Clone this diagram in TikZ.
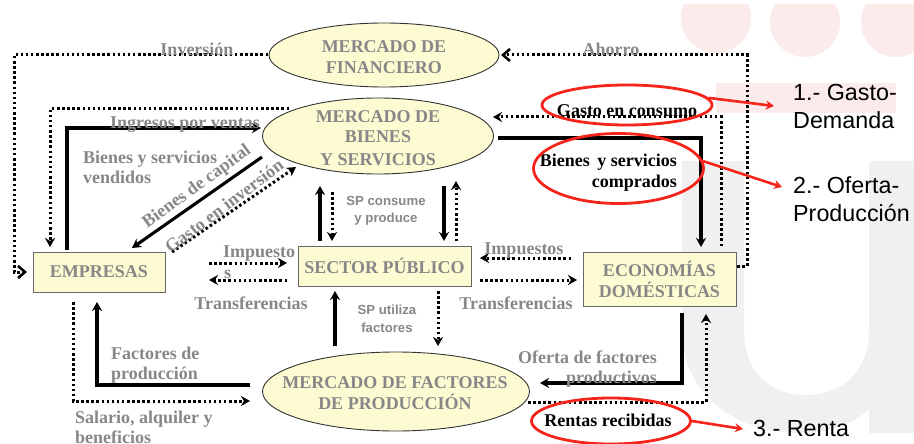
\documentclass[tikz,border=0pt]{standalone}
\usepackage{fontspec}
\setmainfont{Liberation Serif}
\setsansfont{Liberation Sans}
\usetikzlibrary{arrows.meta,shapes.geometric}
\definecolor{pinkbg}{HTML}{FCEBEB}
\definecolor{graybg}{HTML}{F0F0F0}
\definecolor{cream}{HTML}{FDFBD2}
\definecolor{lab}{HTML}{878787}
\definecolor{redl}{HTML}{F5251C}
\tikzset{
  x=1pt,y=-1pt,
  market/.style={ellipse,draw=black!80,line width=0.9pt,fill=cream,inner sep=0pt},
  mtext/.style={text=lab,inner sep=0pt,align=center,font=\bfseries\fontsize{18}{20.5}\selectfont},
  agent/.style={rectangle,draw=black!60,line width=1pt,fill=cream,inner sep=0pt,text=lab,align=center,font=\bfseries\fontsize{18}{21}\selectfont},
  lbl/.style={text=lab,inner sep=0pt,font=\bfseries\fontsize{18}{20}\selectfont},
  sp/.style={text=lab,inner sep=0pt,align=center,font=\sffamily\bfseries\fontsize{13.2}{17.5}\selectfont},
  blk/.style={text=black,inner sep=0pt,font=\bfseries\fontsize{18}{21}\selectfont},
  ans/.style={text=black,inner sep=0pt,align=left,font=\sffamily\fontsize{23.3}{28}\selectfont},
  solid line/.style={line width=3.1pt,-{Stealth[length=9pt,width=10pt]}},
  dot line/.style={line width=3pt,dash pattern=on 2.5pt off 2.6pt,-{Stealth[length=9pt,width=10pt]}},
  chevron/.style={line width=3pt,dash pattern=on 2.5pt off 2.6pt,-{Straight Barb[length=7pt,width=12pt,line width=2.6pt]}},
  ring/.style={ellipse,draw=redl,line width=2.8pt,inner sep=0pt},
  red line/.style={draw=redl,line width=2.6pt,-{Stealth[length=8pt,width=9pt]}},
}
\begin{document}
\begin{tikzpicture}
\useasboundingbox (0,0) rectangle (914,444);
% pale background
\begin{scope}
\clip (0,5) rectangle (914,444);
\fill[pinkbg] (716,18) circle (35);
\fill[pinkbg] (805,22) circle (35);
\fill[pinkbg] (896,22) circle (35);
\fill[pinkbg] (716,83) rectangle (896,113);
\fill[graybg] (682,161) -- (744,161) -- (744,330) .. controls (744,372) and (770,395) .. (806,395)
  .. controls (842,395) and (869,372) .. (869,330) -- (869,161) -- (914,161) -- (914,433) -- (869,433) -- (869,410)
  .. controls (850,425) and (830,433) .. (800,433) .. controls (730,433) and (682,390) .. (682,330) -- cycle;
\end{scope}
% coordinates of connector ends
\coordinate (invA) at (268,55); \coordinate (invB) at (14,55); \coordinate (invC) at (14,272); \coordinate (invD) at (27,272);
\coordinate (ahoA) at (737,266); \coordinate (ahoB) at (747,266); \coordinate (ahoC) at (747,55); \coordinate (ahoD) at (501,55);
\coordinate (conA) at (721,246); \coordinate (conB) at (721,117); \coordinate (conC) at (493,117);
\coordinate (comA) at (498,138); \coordinate (comB) at (701,138); \coordinate (comC) at (701,247);
\coordinate (venA) at (289,109); \coordinate (venB) at (50,109); \coordinate (venC) at (50,247);
\coordinate (ingA) at (67,250); \coordinate (ingB) at (67,128); \coordinate (ingC) at (261,128);
\coordinate (capA) at (262,157); \coordinate (capC) at (132,248);
\coordinate (ginA) at (172,252); \coordinate (ginC) at (296,167);
\coordinate (spA) at (320,241); \coordinate (spB) at (320,186);
\coordinate (spC) at (332,192); \coordinate (spD) at (332,241);
\coordinate (spE) at (444,186); \coordinate (spF) at (444,241);
\coordinate (spG) at (456,241); \coordinate (spH) at (456,181);
\coordinate (impA) at (209,263); \coordinate (impB) at (287,263);
\coordinate (traA) at (287,280); \coordinate (traB) at (209,280);
\coordinate (imqA) at (571,258); \coordinate (imqB) at (480,258);
\coordinate (trqA) at (480,280); \coordinate (trqB) at (577,280);
\coordinate (sufA) at (438,291); \coordinate (sufB) at (438,346);
\coordinate (sufC) at (335,346); \coordinate (sufD) at (335,291);
\coordinate (facA) at (250,385); \coordinate (facB) at (97,385); \coordinate (facC) at (97,302);
\coordinate (salA) at (73,302); \coordinate (salB) at (73,401); \coordinate (salC) at (250,401);
\coordinate (ofeA) at (682,313); \coordinate (ofeB) at (682,383); \coordinate (ofeC) at (540,383);
\coordinate (renA) at (528,402); \coordinate (renB) at (706,402); \coordinate (renC) at (706,314);
% connectors
\draw[chevron] (invA) -- (invB) -- (invC) -- (invD);
\draw[chevron] (ahoA) -- (ahoB) -- (ahoC) -- (ahoD);
\draw[dot line] (conA) -- (conB) -- (conC);
\draw[solid line] (comA) -- (comB) -- (comC);
\draw[dot line] (venA) -- (venB) -- (venC);
\draw[solid line] (ingA) -- (ingB) -- (ingC);
\draw[solid line] (capA) -- (capC);
\draw[dot line] (ginA) -- (ginC);
\draw[solid line] (spA) -- (spB);
\draw[dot line] (spC) -- (spD);
\draw[solid line] (spE) -- (spF);
\draw[dot line] (spG) -- (spH);
\draw[dot line] (impA) -- (impB);
\draw[dot line] (traA) -- (traB);
\draw[dot line] (imqA) -- (imqB);
\draw[dot line] (trqA) -- (trqB);
\draw[dot line] (sufA) -- (sufB);
\draw[solid line] (sufC) -- (sufD);
\draw[solid line] (facA) -- (facB) -- (facC);
\draw[dot line] (salA) -- (salB) -- (salC);
\draw[solid line] (ofeA) -- (ofeB) -- (ofeC);
\draw[dot line] (renA) -- (renB) -- (renC);
% markets and agents
\node[market,minimum width=230pt,minimum height=64pt] (fin) at (384,55) {};
\node[mtext] (finT) at (384,57) {MERCADO DE\\FINANCIERO};
\node[market,minimum width=231pt,minimum height=76pt] (bie) at (378,136) {};
\node[mtext] (bieT) at (378,138) {MERCADO DE\\BIENES\\[2pt]Y SERVICIOS};
\node[market,minimum width=267pt,minimum height=79pt] (mfa) at (396,391.5) {};
\node[mtext] (mfaT) at (395,393) {MERCADO DE FACTORES\\DE PRODUCCIÓN};
\node[agent,minimum width=132pt,minimum height=40pt] (emp) at (99,272) {\raisebox{-2pt}{EMPRESAS}};
\node[agent,minimum width=173pt,minimum height=40pt] (sec) at (384.5,266) {\raisebox{-2pt}{SECTOR PÚBLICO}};
\node[agent,minimum width=153pt,minimum height=54pt] (eco) at (659.5,279) {ECONOMÍAS\\DOMÉSTICAS};
% labels
\node[lbl] (tInv) at (197,49) {Inversión};
\node[lbl] (tAho) at (611,49) {Ahorro};
\node[lbl] (tIng) at (185,125) {Ingresos por ventas};
\node[lbl,anchor=west,align=left] (tBsv) at (83,167) {Bienes y servicios\\vendidos};
\node[lbl,rotate=36] (tCap) at (197,187) {Bienes de capital};
\node[lbl,rotate=37] (tGin) at (224,206) {Gasto en inversión};
\node[sp] (tCon) at (386,211) {SP consume\\y produce};
\node[sp] (tUti) at (387,319) {SP utiliza\\factores};
\node[lbl,anchor=west] (tImp) at (223,254) {Impuesto};
\node[lbl,anchor=west] (tImq) at (224,274) {s};
\node[lbl] (tTra) at (251,303) {Transferencias};
\node[lbl] (tIms) at (524,251) {Impuestos};
\node[lbl] (tTrs) at (516,303) {Transferencias};
\node[lbl,anchor=west,align=left] (tFac) at (111,365) {Factores de\\producción};
\node[lbl,anchor=west,align=left] (tSal) at (75,427) {Salario, alquiler y\\beneficios};
\node[lbl,anchor=east,align=right] (tOfe) at (657,369) {Oferta de factores\\productivos};
% red callouts
\node[blk] (tGco) at (627,111) {Gasto en consumo};
\node[blk,anchor=east,align=right] (tBsc) at (677,173) {Bienes\, y servicios\\comprados};
\node[blk] (tRen) at (608,420) {Rentas recibidas};
\node[ring,minimum width=170pt,minimum height=40pt] (rA) at (627,105) {};
\node[ring,minimum width=170pt,minimum height=70pt] (rB) at (618.5,168.5) {};
\node[ring,minimum width=159pt,minimum height=46pt] (rC) at (611,421) {};
\node[ans,anchor=west] (aA) at (793,106.5) {1.- Gasto-\\Demanda};
\node[ans,anchor=west] (aB) at (793,199.5) {2.- Oferta-\\Producción};
\node[ans,anchor=west] (aC) at (753,428) {3.- Renta};
\coordinate (aAin) at (774,106);
\coordinate (aBin) at (782,187);
\coordinate (aCin) at (743,429);
\draw[red line] (rA.5) -- (aAin);
\draw[red line] (rB.5) -- (aBin);
\draw[red line] (rC.east) -- (aCin);
\end{tikzpicture}
\end{document}
